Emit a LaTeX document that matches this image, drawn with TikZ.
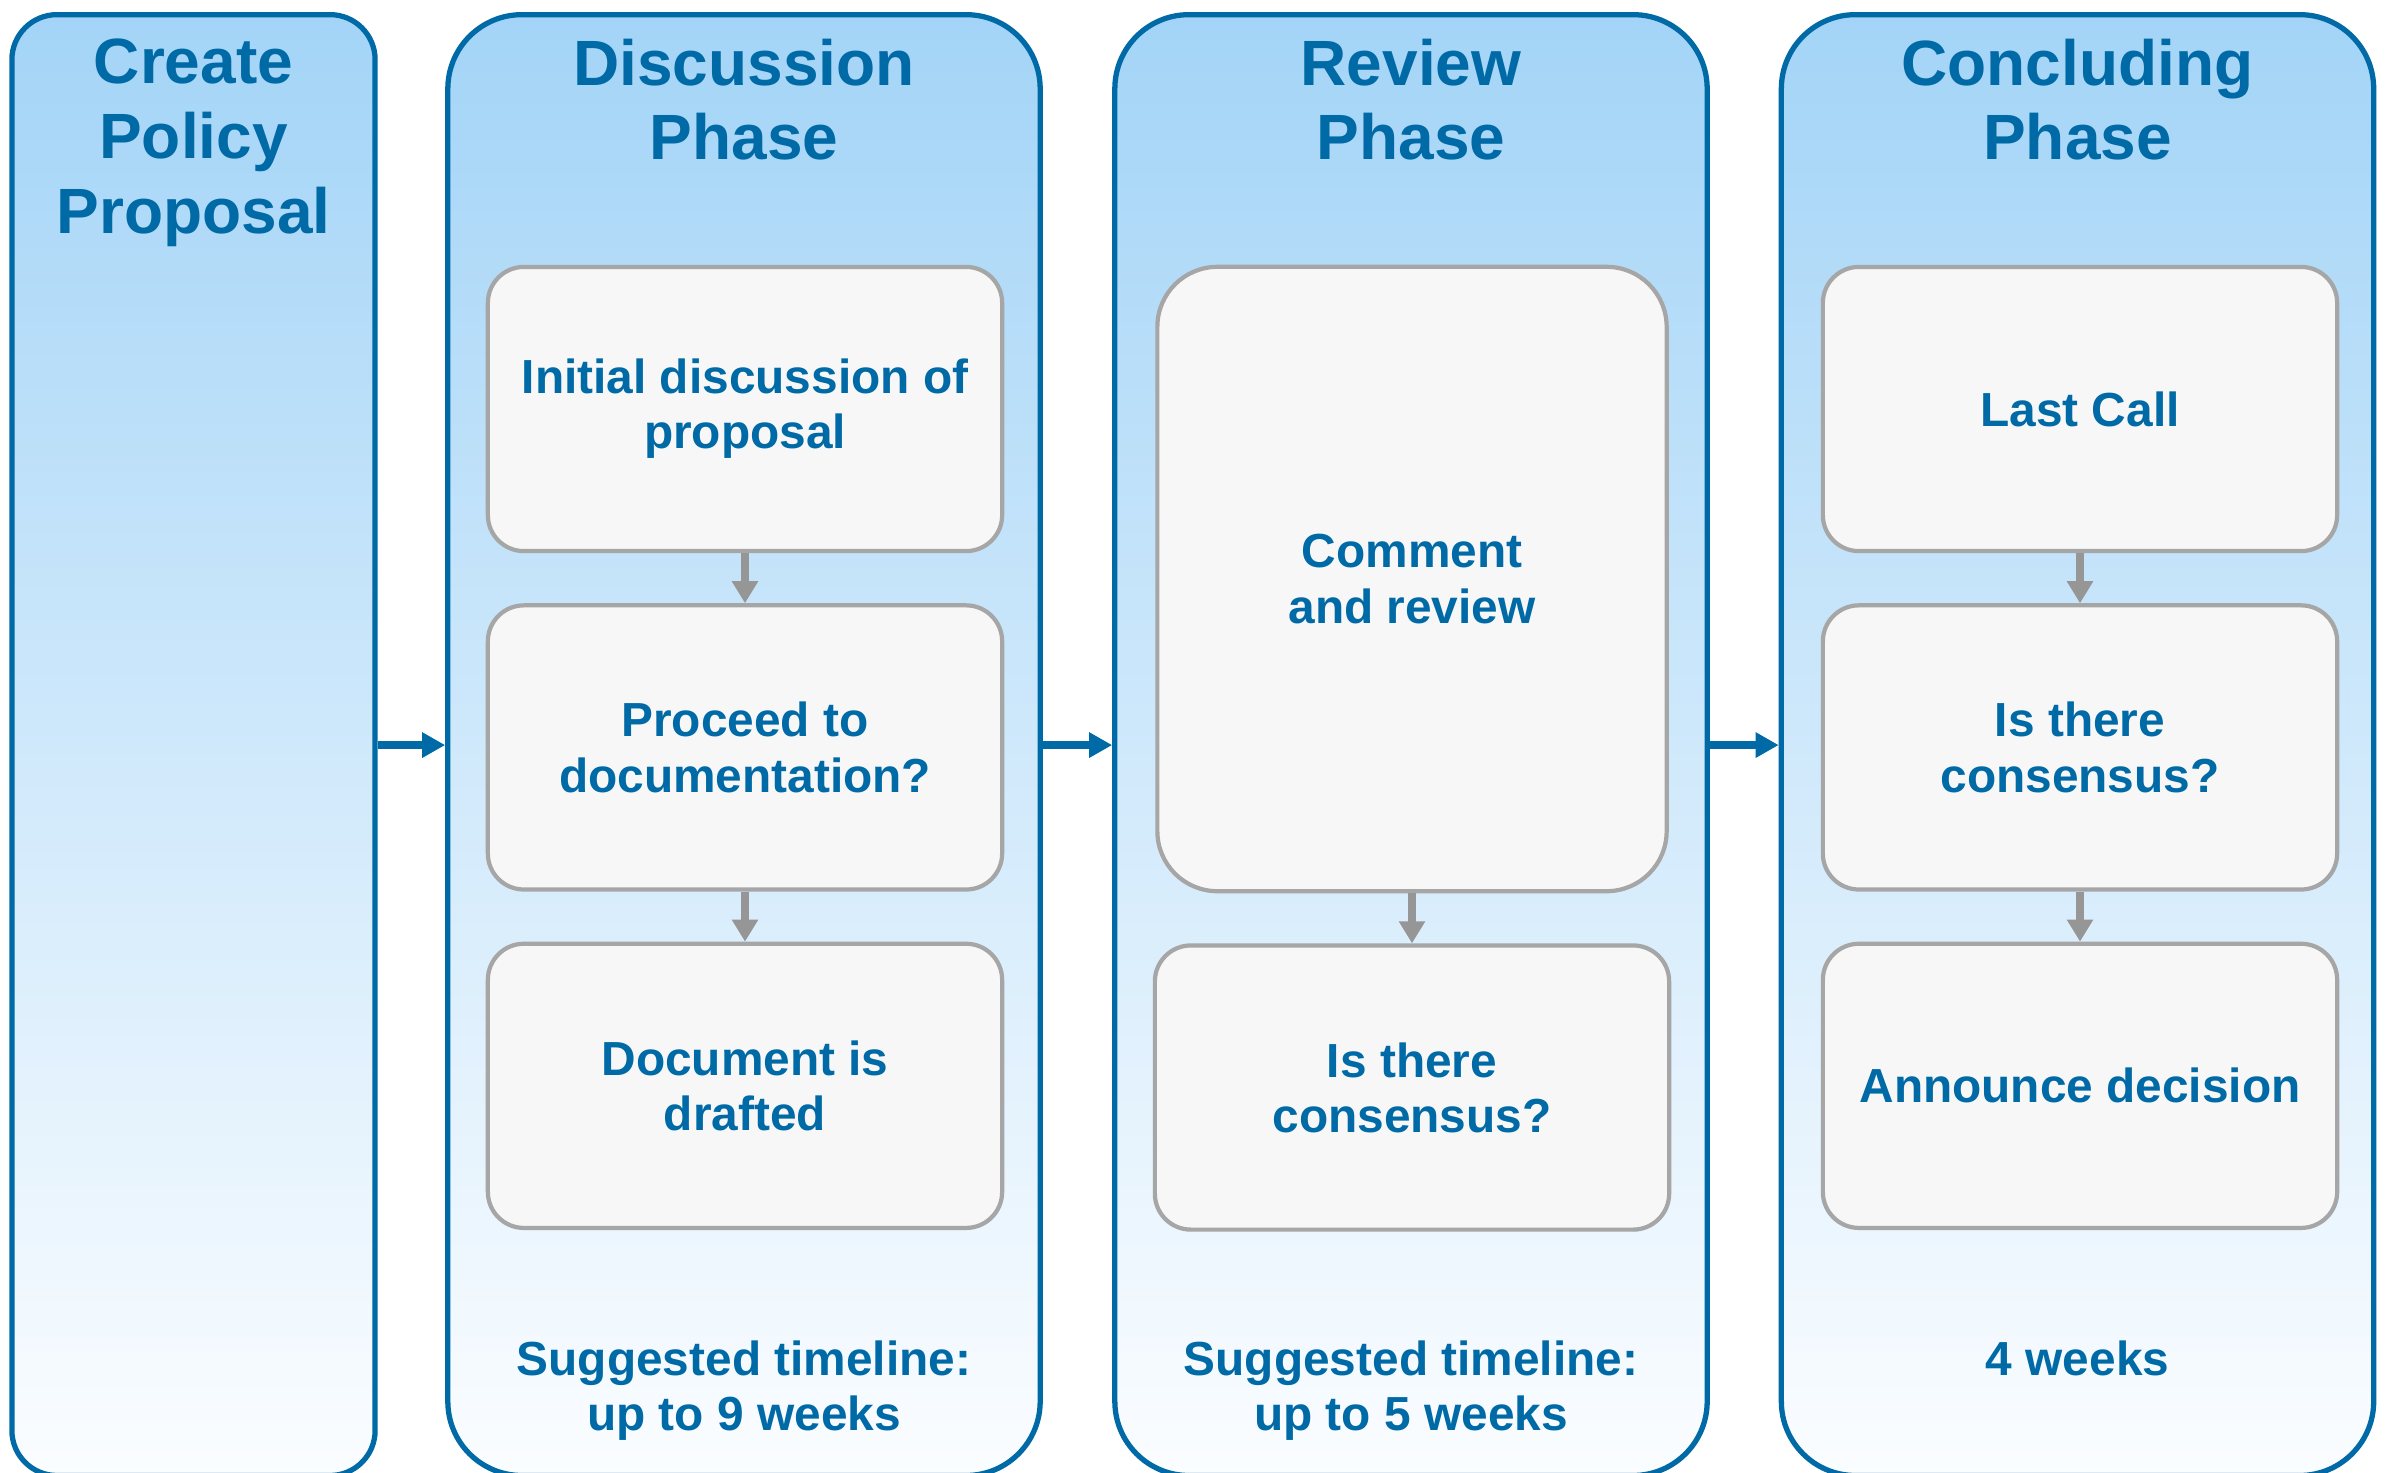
\documentclass[tikz,border=0pt]{standalone}
\usepackage{fontspec}
\setmainfont{Liberation Sans}
\usetikzlibrary{positioning,arrows.meta}
\definecolor{phaseblue}{RGB}{0,106,166}
\definecolor{lanetop}{RGB}{163,212,247}
\definecolor{lanebot}{RGB}{251,253,255}
\definecolor{boxgray}{RGB}{166,166,166}
\definecolor{boxfill}{RGB}{247,247,247}
\definecolor{arrowgray}{RGB}{150,150,150}
\tikzstyle{lane} = [rectangle, draw=phaseblue, line width=1.5pt, top color=lanetop, bottom color=lanebot, minimum width=5.92cm, minimum height=14.6cm, rounded corners=0.74cm, anchor=north, inner sep=0pt]
\tikzstyle{phasetitle} = [align=center, text=phaseblue, font=\fontsize{18.2}{21.3}\selectfont\bfseries, anchor=north, inner sep=0pt]
\tikzstyle{stepbox} = [rectangle, rounded corners=0.36cm, draw=boxgray, line width=1.2pt, fill=boxfill, minimum width=5.14cm, minimum height=2.84cm, align=center, text=phaseblue, font=\fontsize{13.6}{15.7}\selectfont\bfseries]
\tikzstyle{timeline} = [align=center, text=phaseblue, font=\fontsize{13.6}{15.7}\selectfont\bfseries, anchor=north, inner sep=0pt]
\tikzstyle{connect} = [line width=2.3pt, draw=phaseblue, -{Triangle[length=0.23cm,width=0.24cm]}]
\tikzstyle{flow} = [line width=2.3pt, draw=arrowgray, -{Triangle[length=0.22cm,width=0.25cm]}]

\begin{document}
\begin{tikzpicture}[x=0.01cm, y=-0.01cm, node distance=0.5cm]
			\useasboundingbox (0,0) rectangle (2388,1472);
			\clip (0,0) rectangle (2388,1472);

			% phase lanes
			\node (create) [lane, minimum width=3.63cm, rounded corners=0.45cm] at (193.5,12) {};
			\node (disc) [lane] at (744,12) {};
			\node (rev) [lane] at (1411,12) {};
			\node (conc) [lane] at (2077.5,12) {};

			\node (createt) [phasetitle] at (193.5,38) {Create\\Policy\\Proposal};
			\node (disct) [phasetitle] at (744,38) {Discussion\\Phase};
			\node (revt) [phasetitle] at (1411,38) {Review\\Phase};
			\node (conct) [phasetitle] at (2077.5,38) {Concluding\\Phase};

			% steps
			\node (initial) [stepbox] at (745,409) {Initial discussion of\\proposal};
			\node (proceed) [stepbox,below=of initial] {Proceed to\\documentation?};
			\node (drafted) [stepbox,below=of proceed] {Document is\\drafted};

			\node (comment) [stepbox, minimum width=5.09cm, minimum height=6.24cm, rounded corners=0.6cm] at (1412,579) {Comment\\and review};
			\node (revcons) [stepbox,below=of comment] {Is there\\consensus?};

			\node (lastcall) [stepbox] at (2080,409) {Last Call};
			\node (conccons) [stepbox,below=of lastcall] {Is there\\consensus?};
			\node (announce) [stepbox,below=of conccons] {Announce decision};

			\node (disctime) [timeline] at (744,1340) {Suggested timeline:\\up to 9 weeks};
			\node (revtime) [timeline] at (1411,1340) {Suggested timeline:\\up to 5 weeks};
			\node (conctime) [timeline] at (2077.5,1340) {4 weeks};

			\draw [flow] (initial) -- (proceed);
			\draw [flow] (proceed) -- (drafted);
			\draw [flow] (comment) -- (revcons);
			\draw [flow] (lastcall) -- (conccons);
			\draw [flow] (conccons) -- (announce);

			\draw [connect] (create) -- (disc);
			\draw [connect] (disc) -- (rev);
			\draw [connect] (rev) -- (conc);
			\end{tikzpicture}
\end{document}
